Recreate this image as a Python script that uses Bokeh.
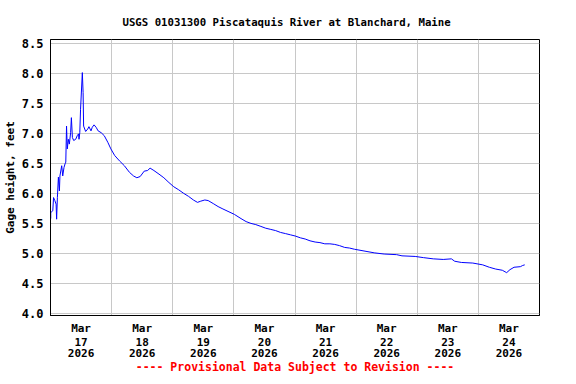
from bokeh.plotting import figure
from bokeh.models import FixedTicker, LinearAxis, Range1d
from bokeh.embed import file_html
from bokeh.resources import INLINE

# hours since Mar 17 2026 00:00
hours = [0.1, 0.1, 0.9, 1.2, 1.7, 2.2, 2.4, 2.7, 3.1, 3.5, 3.7, 4.4, 4.8, 5.3, 5.7,
         6.0, 6.3, 6.6, 7.0, 7.4, 7.9, 8.2, 8.6, 9.1, 9.9, 10.5, 11.0, 11.2, 11.5,
         11.8, 12.5, 12.8, 13.0, 13.8, 14.6, 15.1, 15.9, 16.4, 17.1, 17.9, 18.7,
         19.9, 21.1, 22.5, 23.7, 25.2, 27.1, 29.0, 31.0, 32.6, 33.9, 35.2, 36.8,
         38.1, 39.1, 40.6, 42.6, 44.5, 46.5, 48.4, 50.3, 52.3, 54.2, 56.1, 57.7,
         59.0, 60.6, 61.9, 63.9, 65.8, 67.7, 69.7, 72.2, 74.8, 76.8, 78.7, 80.6,
         82.6, 84.5, 86.5, 88.4, 90.3, 92.3, 94.2, 96.1, 98.1, 100.0, 101.9, 103.9,
         105.8, 107.7, 109.7, 111.6, 113.5, 115.5, 117.4, 119.3, 127.1, 131.0,
         135.9, 138.0, 143.2, 146.5, 150.3, 154.2, 157.4, 158.7, 161.3, 165.8,
         169.7, 172.3, 174.8, 177.4, 179.1, 180.4, 182.0, 184.5, 185.4, 186.2]
gage = [5.58, 5.68, 5.71, 5.93, 5.88, 5.82, 5.57, 5.93, 6.27, 6.04, 6.29, 6.46, 6.29, 6.43, 6.49,
        6.52, 7.12, 6.74, 6.90, 6.82, 7.01, 7.26, 6.93, 6.88, 6.90, 6.96, 6.99, 6.90, 7.01,
        7.40, 8.01, 7.68, 7.12, 7.03, 7.07, 7.11, 7.04, 7.10, 7.14, 7.10, 7.04,
        7.01, 6.96, 6.85, 6.74, 6.63, 6.54, 6.46, 6.35, 6.29, 6.26, 6.28, 6.37,
        6.38, 6.42, 6.38, 6.32, 6.26, 6.18, 6.11, 6.06, 6.00, 5.95, 5.89, 5.85,
        5.87, 5.89, 5.88, 5.83, 5.78, 5.74, 5.70, 5.65, 5.58, 5.53, 5.50, 5.48,
        5.45, 5.42, 5.40, 5.38, 5.35, 5.33, 5.31, 5.29, 5.26, 5.24, 5.21, 5.19,
        5.18, 5.16, 5.16, 5.15, 5.13, 5.10, 5.09, 5.07, 5.01, 4.99,
        4.98, 4.96, 4.95, 4.93, 4.91, 4.90, 4.91, 4.87, 4.85, 4.84,
        4.81, 4.77, 4.74, 4.72, 4.68, 4.73, 4.77, 4.78, 4.80, 4.81]

day_ticks = [12, 36, 60, 84, 108, 132, 156, 180]
month_labels = ["Mar"] * 8
day_labels = ["17", "18", "19", "20", "21", "22", "23", "24"]
year_labels = ["2026"] * 8
midnights = [0, 24, 48, 72, 96, 120, 144, 168, 192]
y_ticks = [4.0, 4.5, 5.0, 5.5, 6.0, 6.5, 7.0, 7.5, 8.0, 8.5]

FONT = "DejaVu Sans Mono"

p = figure(width=560, height=376, output_backend="svg", toolbar_location=None,
           x_range=Range1d(0, 192), y_range=Range1d(3.967, 8.561),
           min_border_left=44, min_border_right=21, min_border_top=39, min_border_bottom=60)

p.line(hours, gage, line_color="#0000ff", line_width=1)

p.title.text = "USGS 01031300 Piscataquis River at Blanchard, Maine"
p.title.align = "left"
p.title.offset = 72
p.title.text_font = FONT
p.title.text_font_size = "10.7px"
p.title.text_font_style = "bold"
p.title.text_color = "black"
p.title.standoff = 21


def style_axis(ax, size="11px"):
    ax.major_tick_in = 0
    ax.major_tick_out = 0
    ax.minor_tick_in = 0
    ax.minor_tick_out = 0
    ax.major_label_text_font = FONT
    ax.major_label_text_font_size = size
    ax.major_label_text_font_style = "bold"
    ax.major_label_text_color = "black"


# x axis: three stacked label rows (month / day / year), footer as last axis label
xa1 = p.xaxis[0]
xa1.ticker = FixedTicker(ticks=day_ticks)
xa1.major_label_overrides = {t: l for t, l in zip(day_ticks, month_labels)}
xa1.axis_line_color = "black"
style_axis(xa1)
xa1.major_label_standoff = 6

xa2 = LinearAxis(ticker=FixedTicker(ticks=day_ticks),
                 major_label_overrides={t: l for t, l in zip(day_ticks, day_labels)})
style_axis(xa2)
xa2.axis_line_color = None
xa2.major_label_standoff = 0
p.add_layout(xa2, "below")

xa3 = LinearAxis(ticker=FixedTicker(ticks=day_ticks),
                 major_label_overrides={t: l for t, l in zip(day_ticks, year_labels)})
style_axis(xa3)
xa3.axis_line_color = None
xa3.major_label_standoff = 0
xa3.axis_label = "---- Provisional Data Subject to Revision ----"
xa3.axis_label_text_font = FONT
xa3.axis_label_text_font_size = "11.5px"
xa3.axis_label_text_font_style = "bold"
xa3.axis_label_text_color = "#ff0000"
xa3.axis_label_standoff = 0
p.add_layout(xa3, "below")

p.xgrid.ticker = FixedTicker(ticks=midnights)

ya = p.yaxis[0]
ya.ticker = FixedTicker(ticks=y_ticks)
ya.major_label_overrides = {t: f"{t:.1f}" for t in y_ticks}
style_axis(ya, "12px")
ya.axis_line_color = "black"
ya.major_label_standoff = 7
ya.axis_label = "Gage height, feet"
ya.axis_label_text_font = FONT
ya.axis_label_text_font_size = "11px"
ya.axis_label_text_font_style = "bold"
ya.axis_label_text_color = "black"
ya.axis_label_standoff = 2

p.xgrid.grid_line_color = "#c8c8c8"
p.ygrid.grid_line_color = "#c8c8c8"
p.outline_line_color = "black"
p.outline_line_alpha = 1
p.background_fill_color = "white"
p.border_fill_color = "white"

open("out.html", "w").write(file_html(p, INLINE))
